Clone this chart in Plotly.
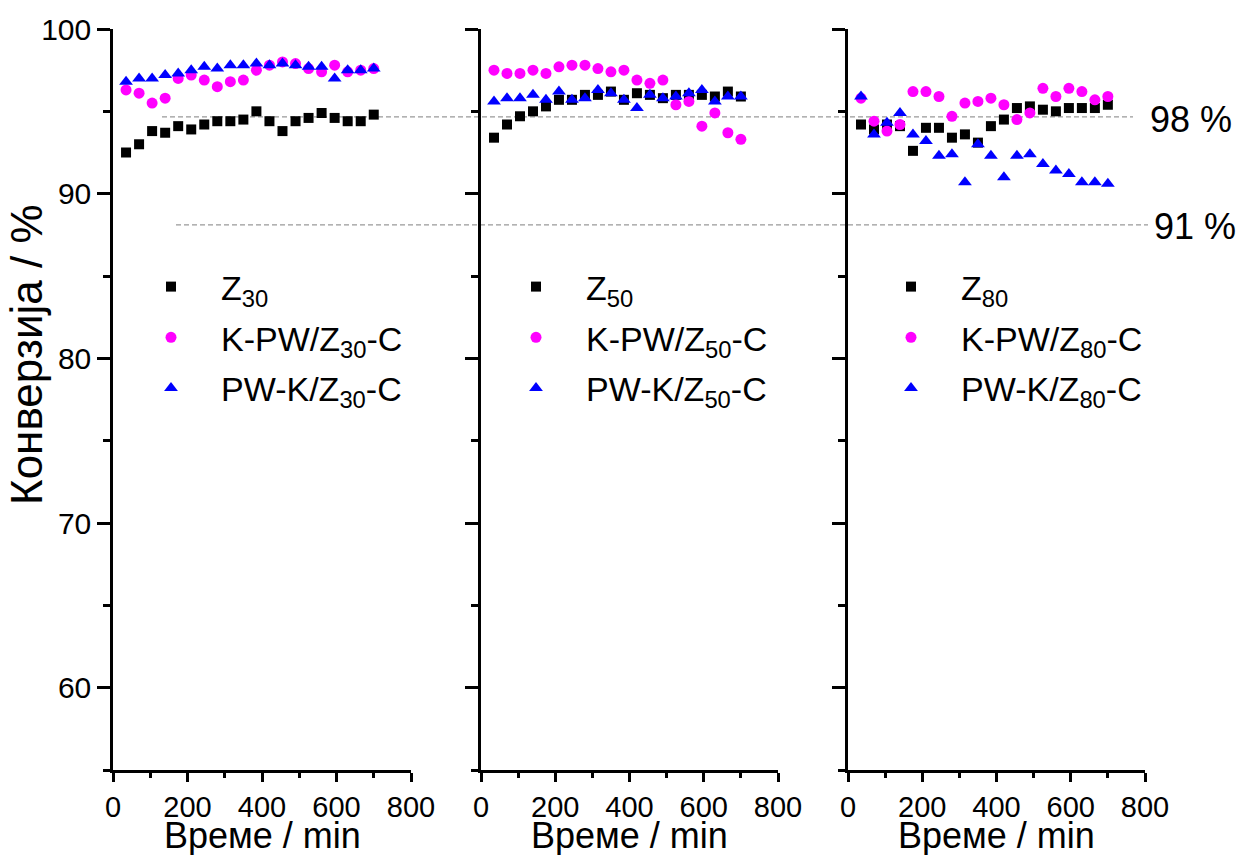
import plotly.graph_objects as go

# ---- data ----
time_min = [35, 70, 105, 140, 175, 210, 245, 280, 315, 350,
            385, 420, 455, 490, 525, 560, 595, 630, 665, 700]

z30 = [92.5, 93.0, 93.8, 93.7, 94.1, 93.9, 94.2, 94.4, 94.4, 94.5,
       95.0, 94.4, 93.8, 94.4, 94.6, 94.9, 94.6, 94.4, 94.4, 94.8]
kpw_z30 = [96.3, 96.1, 95.5, 95.8, 97.0, 97.2, 96.9, 96.5, 96.8, 96.9,
           97.5, 97.8, 98.0, 97.9, 97.6, 97.4, 97.8, 97.4, 97.5, 97.6]
pwk_z30 = [96.8, 97.0, 97.0, 97.2, 97.3, 97.5, 97.7, 97.6, 97.8, 97.8,
           97.9, 97.8, 97.9, 97.8, 97.7, 97.7, 97.0, 97.5, 97.5, 97.6]

z50 = [93.4, 94.2, 94.7, 95.0, 95.3, 95.7, 95.7, 96.0, 96.0, 96.2,
       95.7, 96.1, 96.0, 95.8, 96.0, 96.0, 96.0, 95.9, 96.2, 95.9]
kpw_z50 = [97.5, 97.3, 97.3, 97.5, 97.3, 97.7, 97.8, 97.8, 97.6, 97.4,
           97.5, 96.9, 96.7, 96.9, 95.4, 95.6, 94.1, 94.9, 93.7, 93.3]
pwk_z50 = [95.6, 95.8, 95.8, 96.0, 95.7, 96.2, 95.7, 95.8, 96.3, 96.1,
           95.7, 95.2, 96.0, 95.8, 95.9, 96.1, 96.3, 95.6, 95.9, 95.9]

z80 = [94.2, 93.9, 94.2, 94.1, 92.6, 94.0, 94.0, 93.4, 93.6, 93.1,
       94.1, 94.5, 95.2, 95.3, 95.1, 95.0, 95.2, 95.2, 95.2, 95.4]
kpw_z80 = [95.8, 94.4, 93.8, 94.2, 96.2, 96.2, 95.9, 94.7, 95.5, 95.6,
           95.8, 95.4, 94.5, 94.9, 96.4, 95.9, 96.4, 96.2, 95.7, 95.9]
pwk_z80 = [95.9, 93.6, 94.3, 94.9, 93.6, 93.2, 92.3, 92.4, 90.7, 93.0,
           92.3, 91.0, 92.3, 92.4, 91.8, 91.4, 91.2, 90.7, 90.7, 90.6]

series_names = [
    ["Z<sub>30</sub>", "K-PW/Z<sub>30</sub>-C", "PW-K/Z<sub>30</sub>-C"],
    ["Z<sub>50</sub>", "K-PW/Z<sub>50</sub>-C", "PW-K/Z<sub>50</sub>-C"],
    ["Z<sub>80</sub>", "K-PW/Z<sub>80</sub>-C", "PW-K/Z<sub>80</sub>-C"],
]
panel_values = [[z30, kpw_z30, pwk_z30], [z50, kpw_z50, pwk_z50], [z80, kpw_z80, pwk_z80]]

ref_levels = [94.66, 88.1]
ref_labels = ["98 %", "91 %"]

x_title = "Време / min"
y_title = "Конверзија / %"

# ---- style ----
W, H = 1242, 855
FONT = "Arial, Liberation Sans, sans-serif"
colors = ["#000000", "#FF00FF", "#0000FF"]
symbols = ["square", "circle", "triangle-up"]
sizes = [10, 11, 12]

x_px = [(113, 411), (481, 778), (848, 1145)]
y_top, y_bot = 29, 770
ydom = [1 - y_bot / H, 1 - y_top / H]

fig = go.Figure()

legend_x_px = [121, 486, 861]
legend_top_px = 258

for p in range(3):
    sfx = "" if p == 0 else str(p + 1)
    for s in range(3):
        fig.add_trace(go.Scatter(
            x=time_min, y=panel_values[p][s], mode="markers",
            name=series_names[p][s],
            marker=dict(symbol=symbols[s], color=colors[s], size=sizes[s], line=dict(width=0)),
            xaxis="x" + sfx, yaxis="y" + sfx,
            legend="legend" + sfx, legendgroup="g%d_%d" % (p, s),
        ))
    xa = dict(
        domain=[x_px[p][0] / W, x_px[p][1] / W], range=[0, 800], anchor="y" + sfx,
        showline=True, linecolor="black", linewidth=2.5, showgrid=False, zeroline=False,
        ticks="outside", ticklen=9, tickwidth=2.5, tickcolor="black", dtick=200, tick0=0,
        minor=dict(ticks="outside", ticklen=5, tickwidth=2.5, tickcolor="black", dtick=100),
        tickfont=dict(family=FONT, size=29, color="black"),
        automargin=False,
    )
    ya = dict(
        domain=ydom, range=[55, 100], anchor="x" + sfx,
        showline=True, linecolor="black", linewidth=2.5, showgrid=False, zeroline=False,
        ticks="outside", ticklen=13, tickwidth=2.5, tickcolor="black", dtick=10, tick0=0,
        minor=dict(ticks="outside", ticklen=7, tickwidth=2.5, tickcolor="black", dtick=5),
        tickfont=dict(family=FONT, size=30, color="black"),
        showticklabels=(p == 0), automargin=False,
    )
    fig.layout["xaxis" + sfx] = xa
    fig.layout["yaxis" + sfx] = ya
    fig.layout["legend" + sfx] = dict(
        x=legend_x_px[p] / W, y=1 - legend_top_px / H, xanchor="left", yanchor="top",
        bgcolor="rgba(0,0,0,0)", font=dict(family=FONT, size=34, color="black"),
        itemwidth=90, tracegroupgap=3.5,
    )
    # x-axis title (placed as an annotation for exact vertical position)
    fig.add_annotation(xref="paper", yref="paper",
                       x=(x_px[p][0] + x_px[p][1]) / 2 / W, y=1 - 835 / H,
                       text=x_title, showarrow=False, xanchor="center", yanchor="middle",
                       font=dict(family=FONT, size=36, color="black"))

shape_x = [(162, 1133), (176, 1148)]
label_x = [1191, 1195]
label_dy = [-0.17, -0.1]
for i, lvl in enumerate(ref_levels):
    fig.add_shape(type="line", xref="paper", yref="y",
                  x0=shape_x[i][0] / W, x1=shape_x[i][1] / W, y0=lvl, y1=lvl,
                  line=dict(color="#999999", width=1.2, dash="5px,3px"), layer="below")
    fig.add_annotation(xref="paper", yref="y", x=label_x[i] / W, y=lvl + label_dy[i],
                       text=ref_labels[i], showarrow=False, xanchor="center", yanchor="middle",
                       font=dict(family=FONT, size=36, color="black"))

fig.add_annotation(xref="paper", yref="paper", x=26 / W, y=1 - 355 / H,
                   text=y_title, textangle=-90, showarrow=False,
                   xanchor="center", yanchor="middle",
                   font=dict(family=FONT, size=44, color="black"))

fig.update_layout(
    width=W, height=H, margin=dict(l=0, r=0, t=0, b=0),
    paper_bgcolor="white", plot_bgcolor="white", showlegend=True,
    font=dict(family=FONT, color="black"),
)

fig.write_html("out.html", config={"displayModeBar": False},
               post_script="document.body.style.margin='0px';")
